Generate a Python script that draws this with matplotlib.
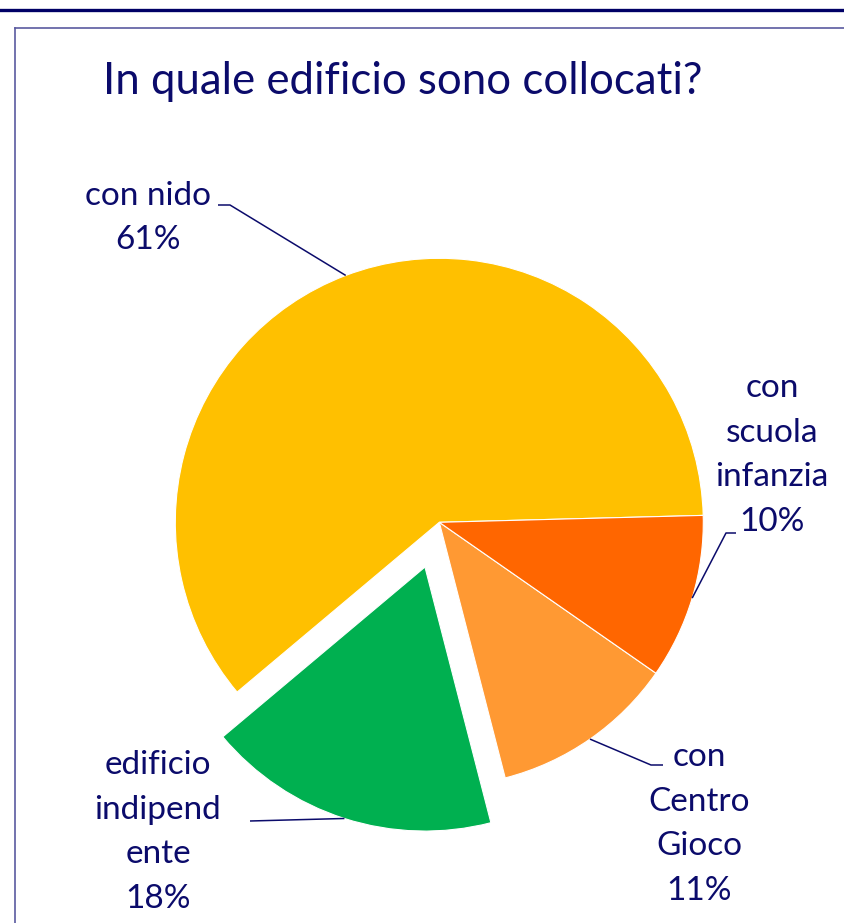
import numpy as np
import matplotlib
matplotlib.use("Agg")
import matplotlib.pyplot as plt

# data (shares, labels show them rounded)
labels = ["con nido", "edificio\nindipend\nente", "con\nCentro\nGioco", "con\nscuola\ninfanzia"]
shares = [60.7, 17.9, 11.3, 10.1]
colors = ["#FFC000", "#00B050", "#FF9933", "#FF6600"]
explode_px = [0, 47, 0, 0]

W, H = 845, 923
NAVY = "#0B0B6B"
plt.rcParams["font.family"] = ["Lato", "DejaVu Sans"]

fig = plt.figure(figsize=(W / 100, H / 100), dpi=100)
ax = fig.add_axes([0, 0, 1, 1])

# everything below is laid out in pixel units (y measured from the bottom)
cx, cy, R = 439.3, H - 522.3, 264
wedges, _ = ax.pie(shares, colors=colors, startangle=1.5, counterclock=True,
                   explode=explode_px, center=(cx, cy), radius=R,
                   wedgeprops=dict(edgecolor="white", linewidth=0.8))
ax.set_xlim(0, W)
ax.set_ylim(0, H)
ax.set_aspect("auto")
ax.axis("off")

# label block centres and leader elbows (image pixel coords, y downward)
label_pos = [(148, 218), (158, 832), (699, 824), (772, 455)]
elbows = [[(230, 205), (218, 205)],
          [(250, 821)],
          [(651, 765), (663, 765)],
          [(726, 533), (736, 533)]]

for w, lab, s, (lx, ly), elb in zip(wedges, labels, shares, label_pos, elbows):
    ax.text(lx, H - ly, f"{lab}\n{round(s)}%", ha="center", va="center",
            fontsize=24, color=NAVY, linespacing=1.6)
    mid = np.deg2rad((w.theta1 + w.theta2) / 2)
    x0 = w.center[0] + w.r * np.cos(mid)
    y0 = w.center[1] + w.r * np.sin(mid)
    xs = [x0] + [p[0] for p in elb]
    ys = [y0] + [H - p[1] for p in elb]
    ax.plot(xs, ys, color=NAVY, lw=1.1, solid_capstyle="butt")

# slide frame
ax.plot([0, W], [H - 9.5, H - 9.5], color="#000066", lw=2.4, clip_on=False)
ax.plot([15, W], [H - 28, H - 28], color="#5A5AA0", lw=1.2, clip_on=False)
ax.plot([15, 15], [H - 28, 0], color="#5A5AA0", lw=1.2, clip_on=False)

ax.text(103, H - 94, "In quale edificio sono collocati?", ha="left",
        va="baseline", fontsize=31.5, color=NAVY)

fig.savefig("out.png", dpi=100)
